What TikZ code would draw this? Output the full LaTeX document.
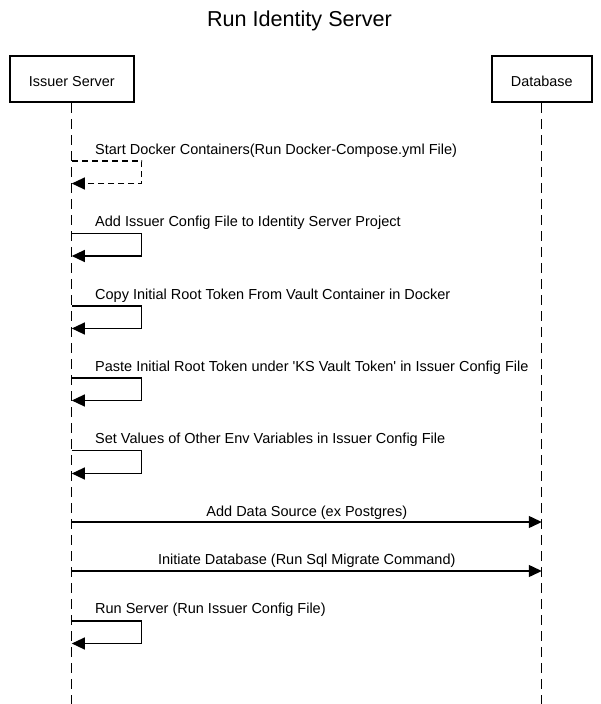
\documentclass[tikz,border=0pt]{standalone}
\usepackage{fontspec}
\setmainfont{Liberation Sans}[Ligatures=TeXOff]
\usetikzlibrary{arrows.meta}
\begin{document}
\begin{tikzpicture}[x=1pt,y=-1pt,
  actor/.style={draw, line width=2.2pt, minimum width=124.3pt, minimum height=45.8pt, inner sep=0pt,
    text height=14pt, text depth=0pt, font=\fontsize{14.4}{17}\selectfont},
  lifeline/.style={line width=1.2pt, dash pattern=on 10pt off 6pt},
  msg/.style={line width=1.2pt, -{Triangle[length=13pt,width=12pt]}},
  dmsg/.style={msg, dash pattern=on 6pt off 4pt},
  lbl/.style={font=\fontsize{14.5}{17}\selectfont, inner sep=0pt},
  ttl/.style={font=\fontsize{21.6}{26}\selectfont, inner sep=0pt}]
\useasboundingbox (0,0) rectangle (601,704);
% title
\node[ttl, anchor=base] (title) at (299.5,27) {Run Identity Server};
% actors
\node[actor] (iss) at (71.8,79) {Issuer Server};
\node[actor, minimum width=100.1pt] (db) at (541.8,79) {Database};
% lifelines
\coordinate (issEnd) at (71.8,704);
\coordinate (dbEnd) at (541.8,704);
\draw[lifeline] (iss.south) -- (issEnd);
\draw[lifeline] (db.south) -- (dbEnd);
% message anchor points
\coordinate (s1a) at (71.8,161);   \coordinate (s1b) at (71.8,183.5);
\coordinate (s2a) at (71.8,233.5); \coordinate (s2b) at (71.8,256);
\coordinate (s3a) at (71.8,306);   \coordinate (s3b) at (71.8,328.5);
\coordinate (s4a) at (71.8,378);   \coordinate (s4b) at (71.8,400.5);
\coordinate (s5a) at (71.8,450.5); \coordinate (s5b) at (71.8,473.5);
\coordinate (m6a) at (71.8,522);   \coordinate (m6b) at (541.8,522);
\coordinate (m7a) at (71.8,571);   \coordinate (m7b) at (541.8,571);
\coordinate (s8a) at (71.8,621);   \coordinate (s8b) at (71.8,643.5);
% self messages
\draw[dmsg] (s1a) -- ++(70,0) |- (s1b);
\draw[msg] (s2a) -- ++(70,0) |- (s2b);
\draw[msg] (s3a) -- ++(70,0) |- (s3b);
\draw[msg] (s4a) -- ++(70,0) |- (s4b);
\draw[msg] (s5a) -- ++(70,0) |- (s5b);
\draw[msg] (m6a) -- (m6b);
\draw[msg] (m7a) -- (m7b);
\draw[msg] (s8a) -- ++(70,0) |- (s8b);
% labels
\node[lbl, anchor=base west] (l1) at (95,154) {Start Docker Containers(Run Docker-Compose.yml File)};
\node[lbl, anchor=base west] (l2) at (95,226) {Add Issuer Config File to Identity Server Project};
\node[lbl, anchor=base west] (l3) at (95,299) {Copy Initial Root Token From Vault Container in Docker};
\node[lbl, anchor=base west] (l4) at (95,371) {Paste Initial Root Token under 'KS Vault Token' in Issuer Config File};
\node[lbl, anchor=base west] (l5) at (95,443) {Set Values of Other Env Variables in Issuer Config File};
\node[lbl, anchor=base] (l6) at (306.8,516) {Add Data Source (ex Postgres)};
\node[lbl, anchor=base] (l7) at (306.8,564) {Initiate Database (Run Sql Migrate Command)};
\node[lbl, anchor=base west] (l8) at (95,613) {Run Server (Run Issuer Config File)};
\end{tikzpicture}
\end{document}
